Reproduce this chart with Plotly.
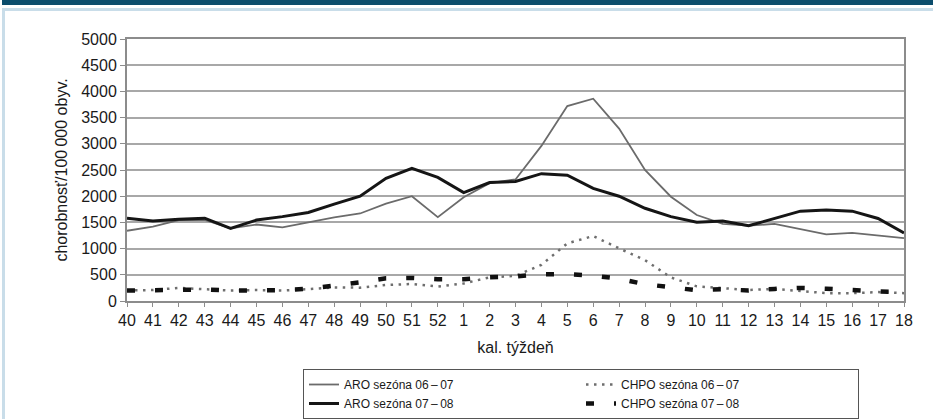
import plotly.graph_objects as go

weeks = ["40", "41", "42", "43", "44", "45", "46", "47", "48", "49", "50", "51", "52",
         "1", "2", "3", "4", "5", "6", "7", "8", "9", "10", "11", "12", "13", "14", "15", "16", "17", "18"]

aro_0607 = [1340, 1420, 1545, 1550, 1385, 1460, 1405, 1500, 1595, 1670, 1860, 2000, 1600,
            1980, 2250, 2320, 2960, 3720, 3860, 3290, 2500, 1990, 1640, 1470, 1440, 1470, 1370, 1270, 1300, 1245, 1200]
aro_0708 = [1580, 1525, 1560, 1580, 1385, 1545, 1610, 1690, 1850, 2000, 2340, 2530, 2360,
            2070, 2260, 2280, 2430, 2400, 2150, 2000, 1770, 1610, 1505, 1525, 1435, 1575, 1715, 1735, 1715, 1575, 1300]
chpo_0607 = [200, 210, 250, 225, 200, 210, 200, 225, 260, 255, 305, 325, 275,
             335, 450, 480, 690, 1100, 1240, 1005, 780, 450, 280, 245, 210, 230, 190, 150, 150, 170, 150]
chpo_0708 = [200, 210, 230, 220, 200, 200, 205, 235, 290, 355, 435, 440, 415,
             415, 455, 470, 510, 515, 485, 425, 320, 255, 205, 225, 200, 230, 250, 235, 210, 190, 160]

names = ["ARO sezóna 06\u2009\u2013\u200907", "CHPO sezóna 06\u2009\u2013\u200907",
         "ARO sezóna 07\u2009\u2013\u200908", "CHPO sezóna 07\u2009\u2013\u200908"]

FONT = "Liberation Sans, Arial, Helvetica, sans-serif"

W, H = 933, 419
ML, MR, MT, MB = 127, 29, 39, 118
PW, PH = W - ML - MR, H - MT - MB


def px_x(px):
    return (px - ML) / PW


def px_y(py):
    return (H - MB - py) / PH


fig = go.Figure()
fig.add_trace(go.Scatter(x=weeks, y=aro_0607, mode="lines", name=names[0],
                         line=dict(color="#6b6b6b", width=1.8)))
fig.add_trace(go.Scatter(x=weeks, y=chpo_0607, mode="lines", name=names[1],
                         line=dict(color="#6e6e6e", width=2.5, dash="2.5px,5.5px")))
fig.add_trace(go.Scatter(x=weeks, y=aro_0708, mode="lines", name=names[2],
                         line=dict(color="#151515", width=3)))
fig.add_trace(go.Scatter(x=weeks, y=chpo_0708, mode="lines", name=names[3],
                         line=dict(color="#111111", width=4.5, dash="8px,20px")))

shapes = [
    dict(type="rect", xref="paper", yref="paper", x0=px_x(2), x1=px_x(W + 5),
         y0=px_y(0 - 5), y1=px_y(5), fillcolor="#0b4d6c", line=dict(width=0), layer="below"),
    dict(type="rect", xref="paper", yref="paper", x0=px_x(2), x1=px_x(W + 5),
         y0=px_y(11), y1=px_y(8), fillcolor="#c9dde9", line=dict(width=0), layer="below"),
    dict(type="rect", xref="paper", yref="paper", x0=px_x(2), x1=px_x(5),
         y0=px_y(H + 5), y1=px_y(8), fillcolor="#c9dde9", line=dict(width=0), layer="below"),
]

fig.update_layout(
    width=W, height=H,
    margin=dict(l=ML, r=MR, t=MT, b=MB, pad=0, autoexpand=False),
    paper_bgcolor="white", plot_bgcolor="white",
    font=dict(family=FONT, size=16, color="#1a1a1a"),
    shapes=shapes,
    showlegend=True,
    legend=dict(orientation="h", x=px_x(303), y=px_y(369), xanchor="left", yanchor="top",
                bordercolor="#555555", borderwidth=1, bgcolor="white",
                font=dict(size=12), entrywidth=232, entrywidthmode="pixels",
                tracegroupgap=0, itemwidth=30),
    xaxis=dict(type="category", range=[0, 30], showgrid=False,
               showline=True, linecolor="#8c8c8c", linewidth=2, mirror=True,
               ticks="outside", ticklen=4, tickcolor="#8c8c8c", tickwidth=1,
               tickfont=dict(size=16),
               title=dict(text="kal. týždeň", font=dict(size=16), standoff=14)),
    yaxis=dict(range=[0, 5000], dtick=500, showgrid=True, gridcolor="#a8a8a8", gridwidth=1.5,
               showline=True, linecolor="#8c8c8c", linewidth=2, mirror=True,
               ticks="outside", ticklen=5, tickcolor="#8c8c8c", tickwidth=1,
               tickfont=dict(size=16), zeroline=False,
               title=dict(text="chorobnosť/100\u2009000 obyv.", font=dict(size=16), standoff=10)),
)

fig.write_html("out.html", config={"displayModeBar": False},
               post_script="document.body.style.margin='0px';document.body.style.overflow='hidden';")
